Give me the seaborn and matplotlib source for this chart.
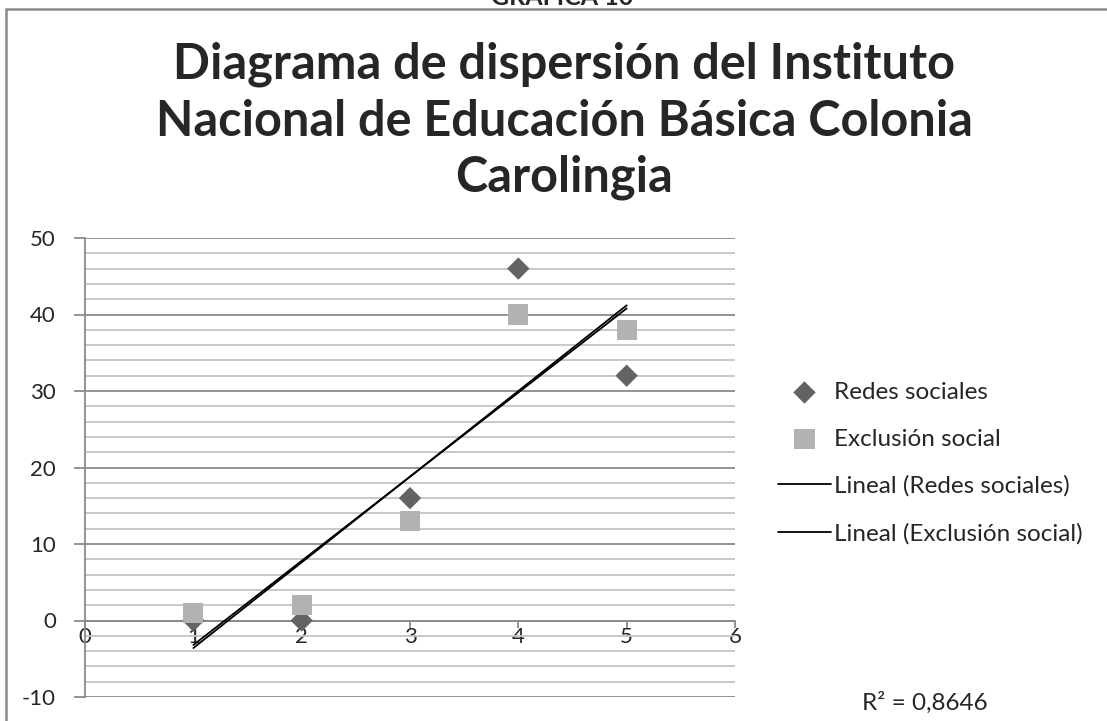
import numpy as np
import pandas as pd
import matplotlib
matplotlib.use("Agg")
import matplotlib.pyplot as plt
from matplotlib.ticker import MultipleLocator
from matplotlib.patches import Rectangle
import seaborn as sns

# data
x_vals = [1, 2, 3, 4, 5]
redes = [0, 0, 16, 46, 32]
exclusion = [1, 2, 13, 40, 38]
r2_text = "R² = 0,8646"

df = pd.DataFrame({"x": x_vals, "Redes sociales": redes, "Exclusión social": exclusion})

sns.set_style("white")
plt.rcParams["font.family"] = ["Lato", "DejaVu Sans"]
plt.rcParams["axes.unicode_minus"] = False

fig = plt.figure(figsize=(11.07, 7.21), dpi=100)
ax = fig.add_axes([85 / 1107, 1 - 697 / 721, 650 / 1107, 459 / 721])

# scatter points
sns.scatterplot(data=df, x="x", y="Redes sociales", marker="D", s=130,
                color="#636363", edgecolor="none", label="Redes sociales", ax=ax, zorder=4)
sns.scatterplot(data=df, x="x", y="Exclusión social", marker="s", s=210,
                color="#b2b2b2", edgecolor="none", label="Exclusión social", ax=ax, zorder=5)

# linear trend lines
sns.regplot(data=df, x="x", y="Redes sociales", scatter=False, ci=None, ax=ax,
            color="black", label="Lineal (Redes sociales)", line_kws={"lw": 1.3, "zorder": 6})
sns.regplot(data=df, x="x", y="Exclusión social", scatter=False, ci=None, ax=ax,
            color="black", label="Lineal (Exclusión social)", line_kws={"lw": 1.3, "zorder": 6})

ax.set_xlim(0, 6)
ax.set_ylim(-10, 50)
ax.set_xlabel("")
ax.set_ylabel("")
ax.xaxis.set_major_locator(MultipleLocator(1))
ax.yaxis.set_major_locator(MultipleLocator(10))
ax.yaxis.set_minor_locator(MultipleLocator(2))

ax.grid(True, axis="y", which="major", color="#8a8a8a", lw=1.3, zorder=0)
ax.grid(True, axis="y", which="minor", color="#c4c4c4", lw=1.3, zorder=0)
ax.set_axisbelow(True)

for side in ["top", "right"]:
    ax.spines[side].set_visible(False)
ax.spines["left"].set_color("#8a8a8a")
ax.spines["left"].set_linewidth(1.3)
ax.spines["bottom"].set_position(("data", 0))
ax.spines["bottom"].set_color("#8a8a8a")
ax.spines["bottom"].set_linewidth(1.3)

ax.tick_params(axis="y", which="major", direction="out", length=8, width=1.3,
               color="#8a8a8a", labelsize=16, pad=13, left=True)
ax.tick_params(axis="y", which="minor", length=0)
ax.tick_params(axis="x", direction="out", length=5, width=1.3,
               color="#8a8a8a", labelsize=16, pad=0, bottom=True)

ax.legend(loc="center left", bbox_to_anchor=(768 / 1107, 1 - 463 / 721),
          bbox_transform=fig.transFigure, frameon=False, fontsize=17.5,
          handlelength=2.2, handletextpad=0.1, labelspacing=1.06, borderaxespad=0)

fig.text(925 / 1107, 1 - 703 / 721, r2_text, fontsize=17.5, ha="center", va="center")

fig.text(564 / 1107, 1 - 121 / 721,
         "Diagrama de dispersión del Instituto\nNacional de Educación Básica Colonia\nCarolingia",
         fontsize=35, fontweight="bold", ha="center", va="center", linespacing=1.3)

# partially cut heading above the frame
fig.text(562 / 1107, 1 - 5 / 721, "GRAFICA 10", fontsize=18, fontweight="bold",
         ha="center", va="baseline")

# chart frame
fig.patches.append(Rectangle((6 / 1107, -0.05), 1.1, 1 - 9 / 721 + 0.05,
                             transform=fig.transFigure, fill=False,
                             edgecolor="#8a8a8a", lw=1.8))

fig.savefig("out.png", dpi=100)
